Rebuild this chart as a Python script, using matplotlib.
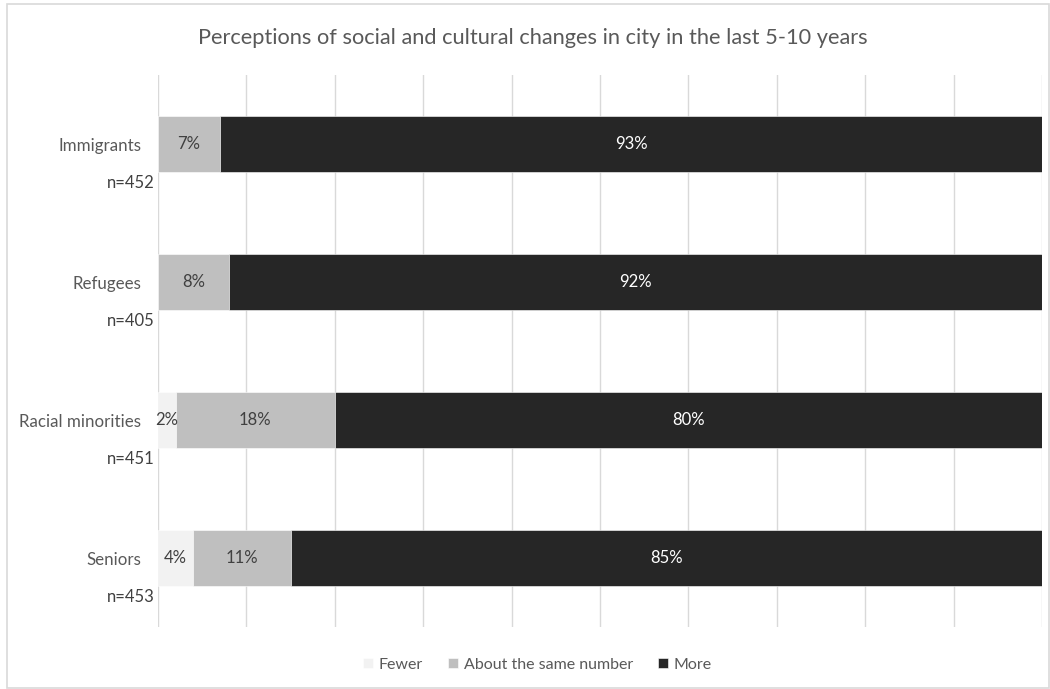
import matplotlib
matplotlib.use("Agg")
import matplotlib.pyplot as plt
from matplotlib.patches import Rectangle

plt.rcParams["font.family"] = ["Lato", "DejaVu Sans"]

categories = ["Immigrants", "Refugees", "Racial minorities", "Seniors"]
sample_sizes = ["n=452", "n=405", "n=451", "n=453"]
fewer = [0, 0, 2, 4]
same = [7, 8, 18, 11]
more = [93, 92, 80, 85]

series = [
    ("Fewer", fewer, "#F2F2F2", "#404040"),
    ("About the same number", same, "#BFBFBF", "#404040"),
    ("More", more, "#262626", "#FFFFFF"),
]

fig = plt.figure(figsize=(10.5, 6.89), dpi=100)
fig.patches.append(Rectangle((0.007, 0.002), 0.992, 0.992, transform=fig.transFigure,
                             fill=False, edgecolor="#D9D9D9", linewidth=1.2))
ax = fig.add_axes([0.1505, 0.09, 0.842, 0.801])

ypos = list(range(len(categories)))
left = [0] * len(categories)
for name, vals, color, tcolor in series:
    bars = ax.barh(ypos, vals, left=left, height=0.4, color=color, label=name,
                   edgecolor="white", linewidth=0.4, zorder=2)
    for bar, v in zip(bars, vals):
        if v > 0:
            ax.text(bar.get_x() + bar.get_width() / 2, bar.get_y() + bar.get_height() / 2,
                    f"{v}%", ha="center", va="center", color=tcolor, fontsize=12, zorder=3)
    left = [l + v for l, v in zip(left, vals)]

# sample size under each category label
for y, n in zip(ypos, sample_sizes):
    ax.text(-0.35, y + 0.28, n, ha="right", va="center", color="#404040", fontsize=12)

ax.set_xlim(0, 100)
ax.set_ylim(3.5, -0.5)
ax.set_xticks(range(0, 101, 10))
ax.set_xticklabels([])
ax.tick_params(axis="x", length=0)
ax.set_yticks(ypos)
ax.set_yticklabels(categories, color="#595959", fontsize=12.2)
ax.tick_params(axis="y", length=0, pad=12)
ax.grid(axis="x", color="#D9D9D9", linewidth=1, zorder=0)
ax.set_axisbelow(True)
for s in ax.spines.values():
    s.set_visible(False)

fig.text(0.507, 0.945, "Perceptions of social and cultural changes in city in the last 5-10 years",
         ha="center", va="center", color="#595959", fontsize=15.7)

fig.legend(loc="center", bbox_to_anchor=(0.512, 0.035), ncol=3, frameon=False,
           fontsize=11.5, handlelength=0.6, handleheight=0.6, columnspacing=1.6,
           handletextpad=0.35, labelcolor="#595959")

fig.savefig("out.png", dpi=100)
